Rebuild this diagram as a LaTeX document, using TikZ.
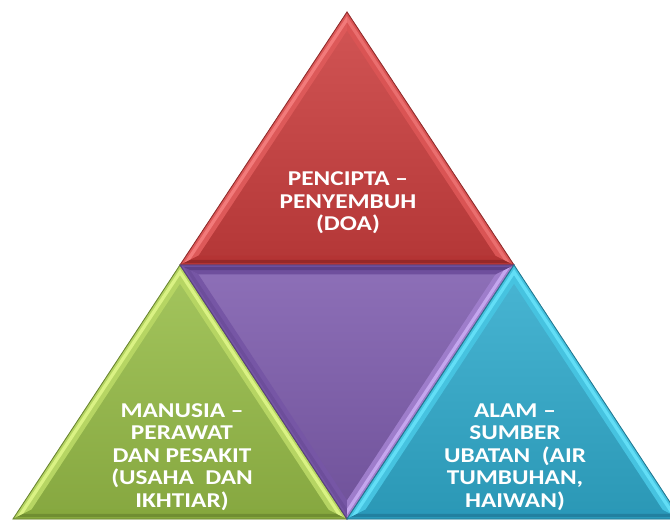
\documentclass[tikz,border=0pt]{standalone}
\usepackage{fontspec}
\setmainfont{Carlito}
\newfontfamily\lblfont[FakeStretch=1.2]{Carlito}
\usetikzlibrary{calc}
\definecolor{redbase}{RGB}{204,62,62}
\definecolor{redlite}{RGB}{242,122,122}
\definecolor{reddark}{RGB}{150,40,40}
\definecolor{greenbase}{RGB}{152,190,72}
\definecolor{greenlite}{RGB}{218,242,132}
\definecolor{greendark}{RGB}{112,142,50}
\definecolor{violetbase}{RGB}{126,92,174}
\definecolor{violetlite}{RGB}{196,166,238}
\definecolor{violetdark}{RGB}{92,64,136}
\definecolor{cyanbase}{RGB}{48,172,206}
\definecolor{cyanlite}{RGB}{98,222,246}
\definecolor{cyandark}{RGB}{34,128,160}
\newcommand{\bevtri}[7]{%
\coordinate (G) at (barycentric cs:#1=1,#2=1,#3=1);
\foreach \v in {#1,#2,#3} {
  \coordinate (\v a) at ($(\v)!0.025!(G)$);
  \coordinate (\v b) at ($(\v)!0.06!(G)$);
  \coordinate (\v c) at ($(\v)!0.11!(G)$);
}
\shade[top color=#4!88!white, bottom color=#4!88!black] (#1) -- (#2) -- (#3) -- cycle;
\fill[#5!45!#4] (#1) -- (#2) -- (#2c) -- (#1c) -- cycle;
\fill[#6!45!#4] (#2) -- (#3) -- (#3c) -- (#2c) -- cycle;
\fill[#7!45!#4] (#3) -- (#1) -- (#1c) -- (#3c) -- cycle;
\fill[#5] (#1a) -- (#2a) -- (#2b) -- (#1b) -- cycle;
\fill[#6] (#2a) -- (#3a) -- (#3b) -- (#2b) -- cycle;
\fill[#7] (#3a) -- (#1a) -- (#1b) -- (#3b) -- cycle;
\draw[#4!70!black, line width=0.5pt] (#1) -- (#2) -- (#3) -- cycle;
}
\begin{document}
\begin{tikzpicture}
\tikzset{
  label/.style={text=white, font=\lblfont\bfseries\fontsize{12}{12.8}\selectfont, align=center, inner sep=0pt}
}
\useasboundingbox (0,0) rectangle (13.4,10.42);
\clip (0,0) rectangle (13.4,10.42);

\coordinate (T) at (6.94,10.18);
\coordinate (L) at (3.60,5.12);
\coordinate (R) at (10.28,5.12);
\coordinate (BL) at (0.26,0.04);
\coordinate (BM) at (6.94,0.04);
\coordinate (BR) at (13.62,0.04);

\bevtri{T}{L}{R}{redbase}{redlite}{reddark}{redlite!80!redbase}
\bevtri{L}{BL}{BM}{greenbase}{greenlite}{greendark}{greenlite}
\bevtri{L}{BM}{R}{violetbase}{violetdark!50!violetbase}{violetlite}{violetdark}
\bevtri{R}{BM}{BR}{cyanbase}{cyanlite}{cyandark}{cyanlite}

\node[label] (doa) at (6.96,6.36) {PENCIPTA –\\PENYEMBUH\\(DOA)};
\node[label] (usaha) at (3.64,1.28) {MANUSIA –\\PERAWAT\\DAN PESAKIT\\(USAHA \ DAN\\IKHTIAR)};
\node[label] (alam) at (10.3,1.28) {ALAM –\\SUMBER\\UBATAN \ (AIR\\TUMBUHAN,\\HAIWAN)};
\end{tikzpicture}
\end{document}
